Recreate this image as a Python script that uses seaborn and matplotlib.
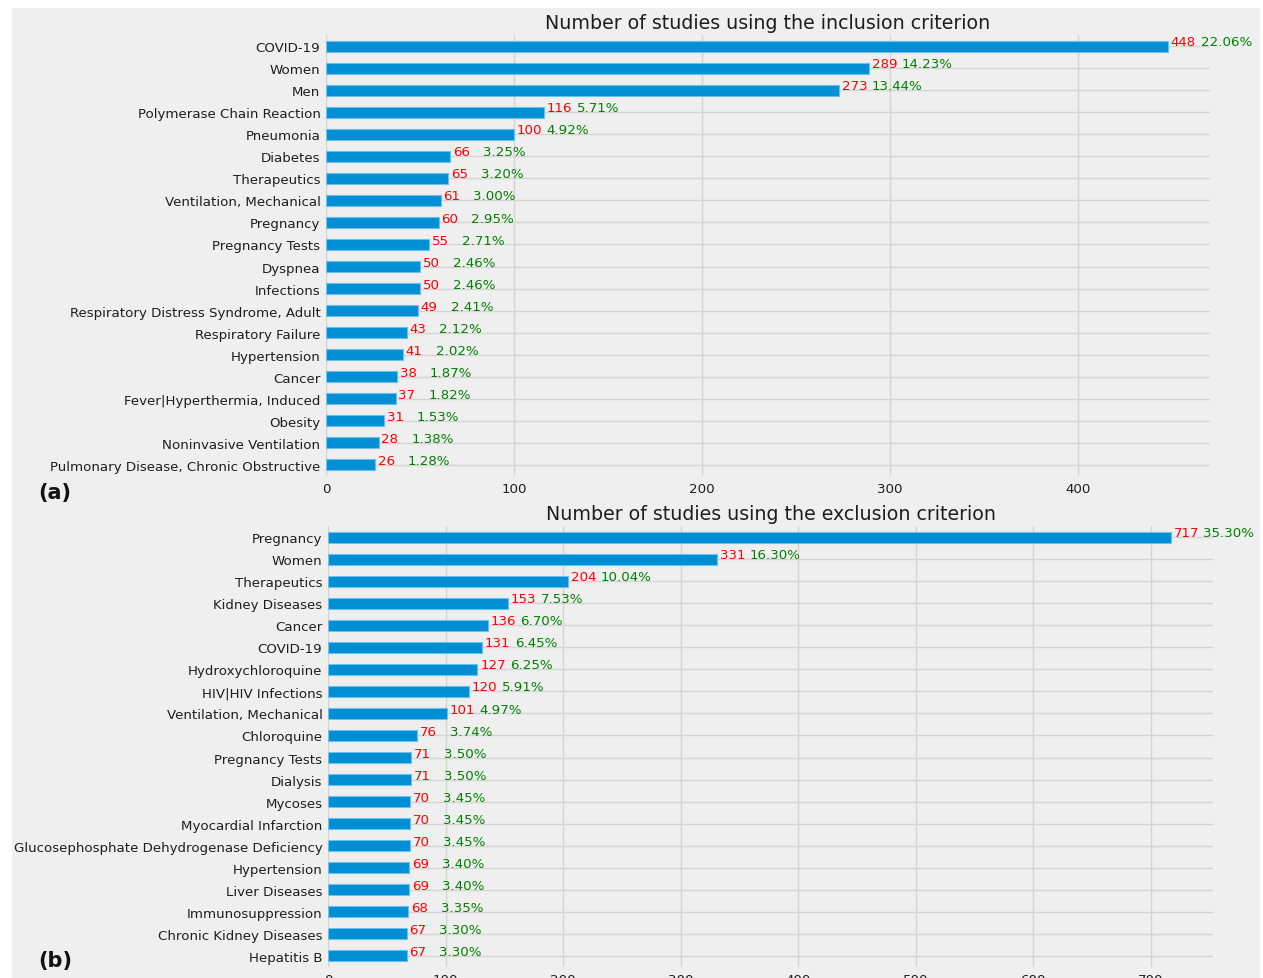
import matplotlib
matplotlib.use("Agg")
import matplotlib.pyplot as plt
import seaborn as sns
from matplotlib.patches import Rectangle

inc_labels = ["COVID-19", "Women", "Men", "Polymerase Chain Reaction", "Pneumonia",
              "Diabetes", "Therapeutics", "Ventilation, Mechanical", "Pregnancy",
              "Pregnancy Tests", "Dyspnea", "Infections",
              "Respiratory Distress Syndrome, Adult", "Respiratory Failure",
              "Hypertension", "Cancer", "Fever|Hyperthermia, Induced", "Obesity",
              "Noninvasive Ventilation", "Pulmonary Disease, Chronic Obstructive"]
inc_counts = [448, 289, 273, 116, 100, 66, 65, 61, 60, 55, 50, 50, 49, 43, 41, 38, 37, 31, 28, 26]
inc_pcts = ["22.06%", "14.23%", "13.44%", "5.71%", "4.92%", "3.25%", "3.20%", "3.00%",
            "2.95%", "2.71%", "2.46%", "2.46%", "2.41%", "2.12%", "2.02%", "1.87%",
            "1.82%", "1.53%", "1.38%", "1.28%"]

exc_labels = ["Pregnancy", "Women", "Therapeutics", "Kidney Diseases", "Cancer", "COVID-19",
              "Hydroxychloroquine", "HIV|HIV Infections", "Ventilation, Mechanical",
              "Chloroquine", "Pregnancy Tests", "Dialysis", "Mycoses",
              "Myocardial Infarction", "Glucosephosphate Dehydrogenase Deficiency",
              "Hypertension", "Liver Diseases", "Immunosuppression",
              "Chronic Kidney Diseases", "Hepatitis B"]
exc_counts = [717, 331, 204, 153, 136, 131, 127, 120, 101, 76, 71, 71, 70, 70, 70, 69, 69, 68, 67, 67]
exc_pcts = ["35.30%", "16.30%", "10.04%", "7.53%", "6.70%", "6.45%", "6.25%", "5.91%",
            "4.97%", "3.74%", "3.50%", "3.50%", "3.45%", "3.45%", "3.45%", "3.40%",
            "3.40%", "3.35%", "3.30%", "3.30%"]

titles = ["Number of studies using the inclusion criterion",
          "Number of studies using the exclusion criterion"]
panel_tags = ["(a)", "(b)"]

BG = "#efefef"
BAR = "#008fd5"
W, H = 1263, 979

sns.set_style("whitegrid")
plt.rcParams["font.family"] = ["DejaVu Sans"]

fig = plt.figure(figsize=(W / 100, H / 100), dpi=100, facecolor="white")
fig.patches.append(Rectangle((12 / W, 0), 1248 / W, 970 / H, transform=fig.transFigure,
                             facecolor=BG, edgecolor="none", zorder=-10))

ax_pos = [
    [326 / W, 1 - 477 / H, 884 / W, 441 / H],
    [328 / W, 1 - 968 / H, 885 / W, 441 / H],
]
tag_y = [1 - 493 / H, 1 - 961 / H]

datasets = [(inc_labels, inc_counts, inc_pcts), (exc_labels, exc_counts, exc_pcts)]

for k, (labels, counts, pcts) in enumerate(datasets):
    ax = fig.add_axes(ax_pos[k])
    ax.set_facecolor(BG)
    sns.barplot(x=counts, y=labels, orient="h", width=0.5, color=BAR, saturation=1,
                edgecolor="#6cc0ec", linewidth=0.8, ax=ax, zorder=3)
    ax.set_xlim(0, max(counts) * 1.05)
    ax.set_ylim(len(labels) - 0.5, -0.5)
    ax.grid(True, color="#d4d4d4", linewidth=1.0, zorder=0)
    ax.set_axisbelow(True)
    for s in ax.spines.values():
        s.set_visible(False)
    ax.tick_params(axis="both", length=0, labelsize=9.6, colors="#1e1e1e", pad=4)
    ax.set_xlabel("")
    ax.set_ylabel("")
    ax.set_title(titles[k], fontsize=13.7, color="#1e1e1e", pad=5)
    for i, (v, p) in enumerate(zip(counts, pcts)):
        ax.annotate(str(v), xy=(v, i - 0.2), xytext=(2, 0), textcoords="offset points",
                    color="red", fontsize=9.6, va="center", ha="left", zorder=5)
        ax.annotate(p, xy=(v, i - 0.2), xytext=(23.5, 0), textcoords="offset points",
                    color="green", fontsize=9.6, va="center", ha="left", zorder=5)
    fig.text(38 / W, tag_y[k], panel_tags[k], fontsize=15, fontweight="bold",
             va="center", ha="left", color="#111111")

fig.savefig("out.png", dpi=100, facecolor="white")
